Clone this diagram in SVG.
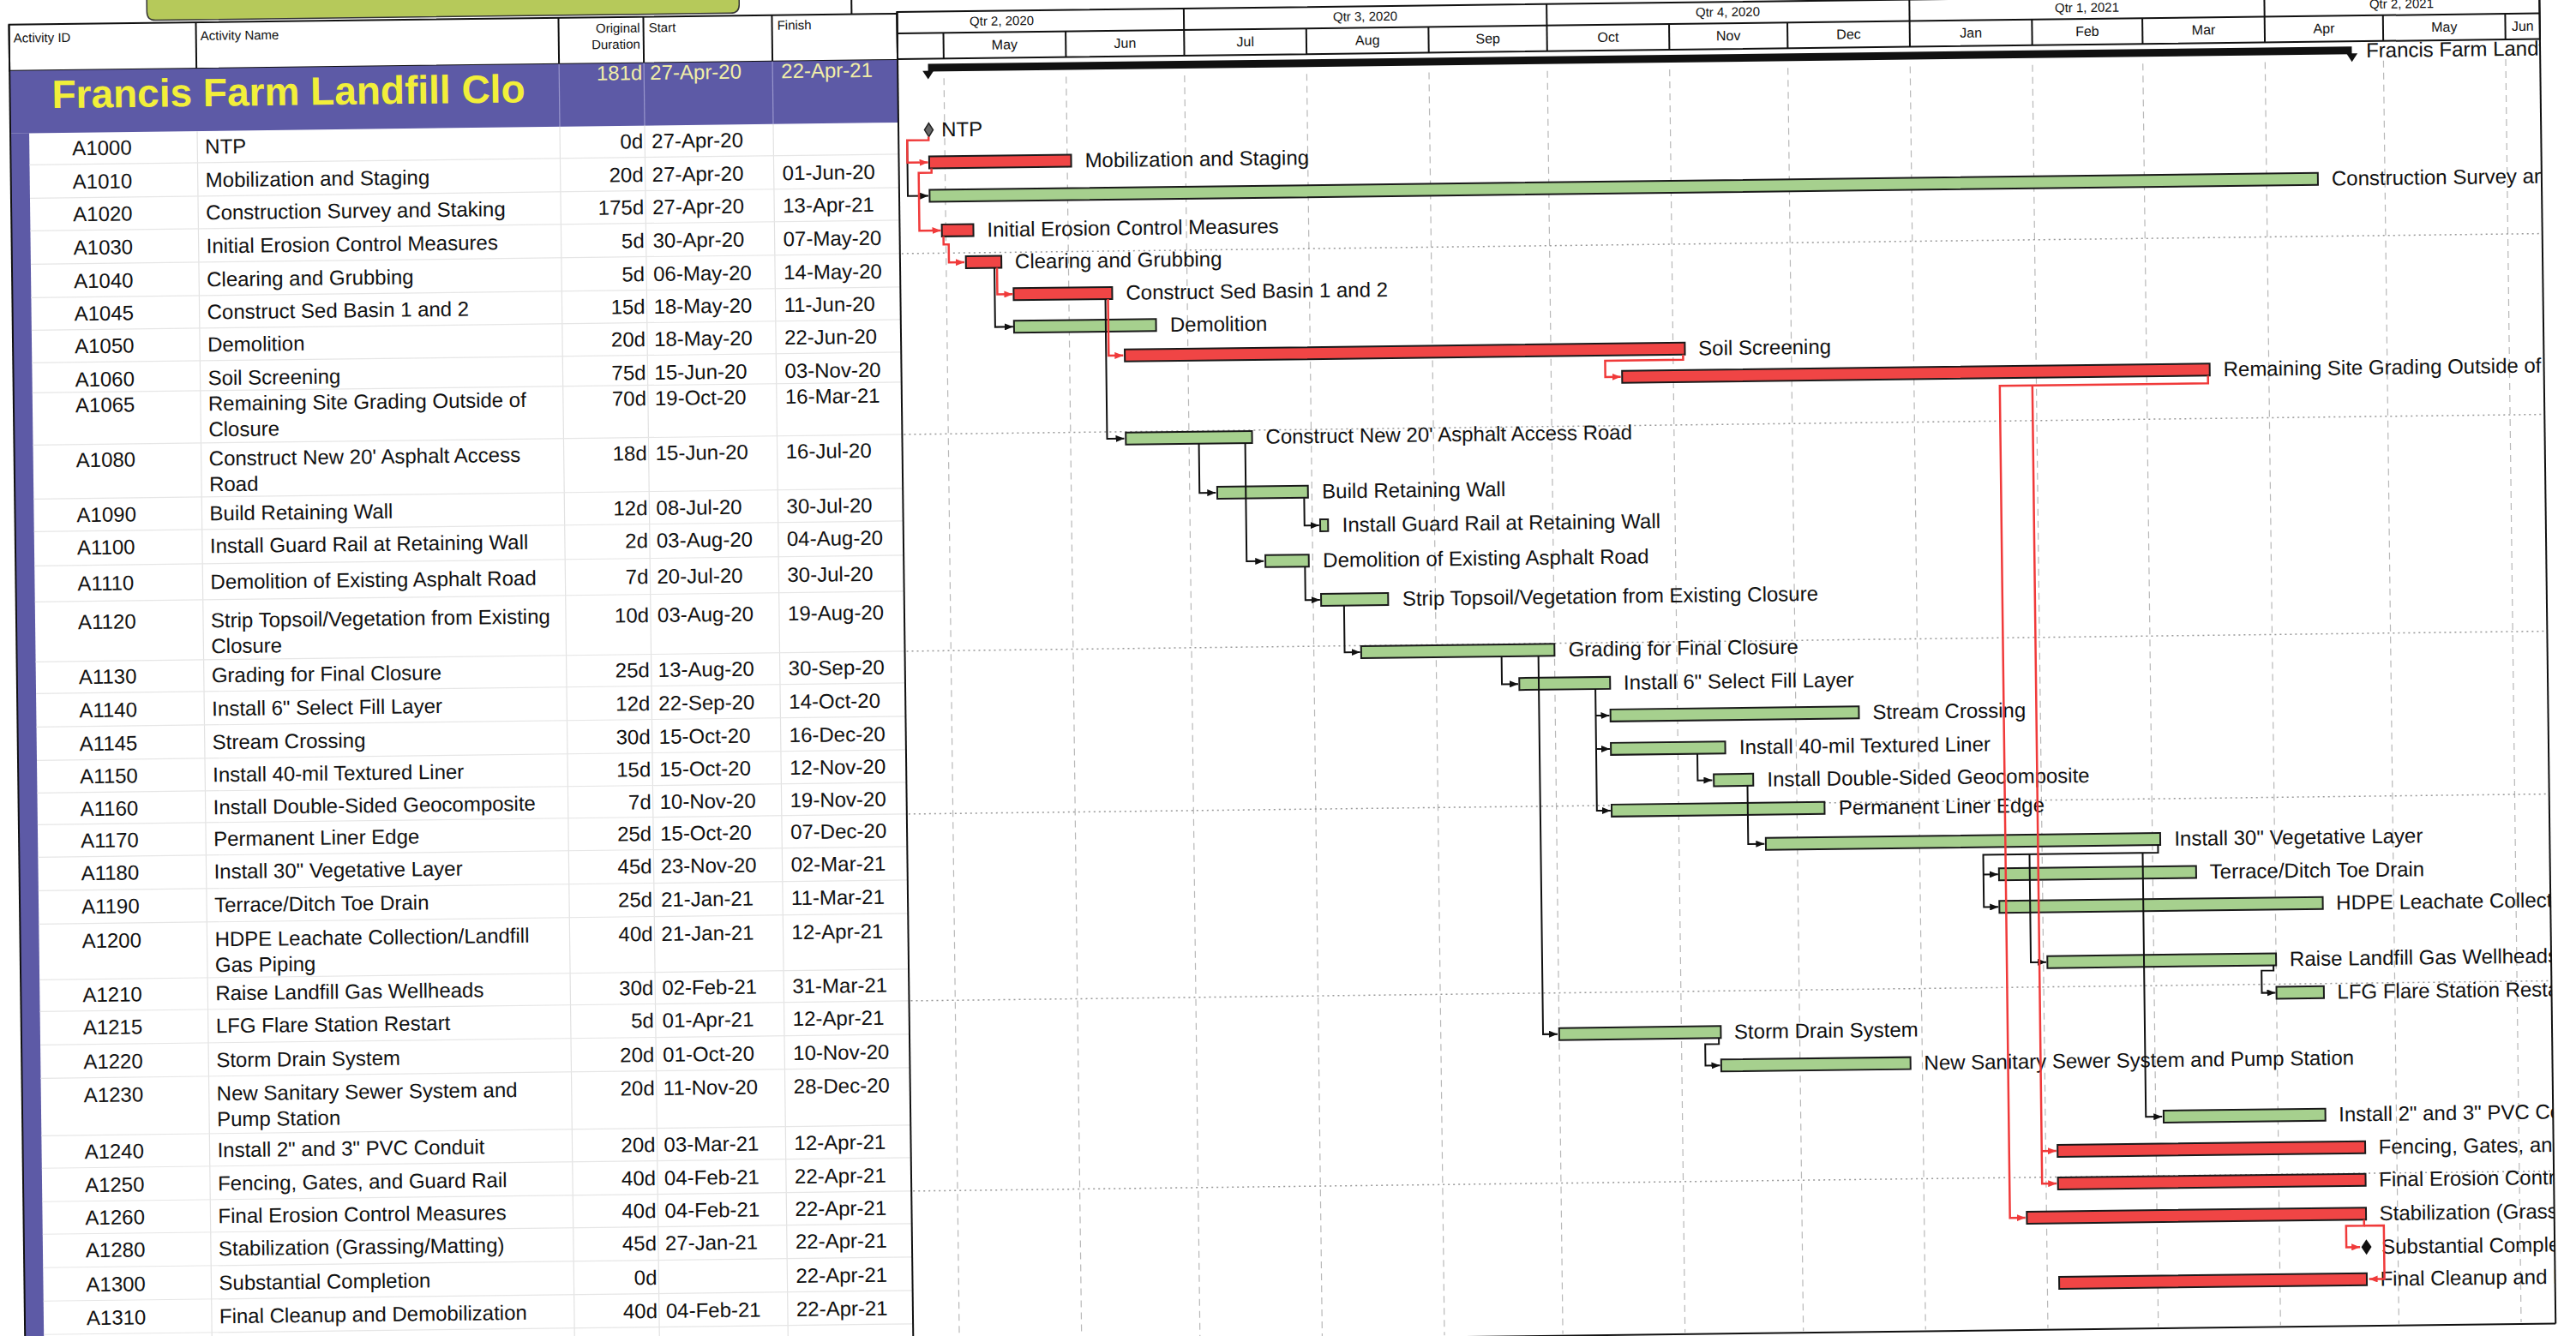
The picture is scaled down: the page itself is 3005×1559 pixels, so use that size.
<svg xmlns="http://www.w3.org/2000/svg" width="3005" height="1559" viewBox="0 0 3005 1559">
<defs>
<style>
text{font-family:"Liberation Sans",Arial,sans-serif;fill:#111}
.id,.nm,.dt,.lb{font-size:24px}
.du{font-size:24px;text-anchor:end}
.hd{font-size:15px}
.hde{font-size:15px;text-anchor:end}
.qt{font-size:15px;text-anchor:middle}
.mo{font-size:16px;text-anchor:middle}
.lb{clip-path:url(#cc)}
.r{fill:#f04545;stroke:#1a1a1a;stroke-width:2}
.g{fill:#a6d08e;stroke:#1a1a1a;stroke-width:2}
.cr{fill:none;stroke:#f03a3a;stroke-width:2.5;marker-end:url(#ar)}
.cb{fill:none;stroke:#111;stroke-width:2;marker-end:url(#ab)}
.grid{stroke:#b8b8b8;stroke-width:1.2;stroke-dasharray:8 6}
.dot{stroke:#999;stroke-width:1.5;stroke-dasharray:2 4}
.rowl{stroke:#e6e6e6;stroke-width:1.2}
.coll{stroke:#e2e2e2;stroke-width:1.2}
.bd{stroke:#111;stroke-width:2;fill:none}
</style>
<marker id="ar" viewBox="0 0 10 8" refX="10" refY="4" markerWidth="10" markerHeight="8" markerUnits="userSpaceOnUse" orient="auto"><path d="M0,0 L10,4 L0,8 Z" fill="#f03a3a"/></marker>
<marker id="ab" viewBox="0 0 10 8" refX="10" refY="4" markerWidth="10" markerHeight="8" markerUnits="userSpaceOnUse" orient="auto"><path d="M0,0 L10,4 L0,8 Z" fill="#111"/></marker>
<clipPath id="cc"><rect x="1056" y="60" width="1916" height="1520"/></clipPath>
</defs>
<rect x="0" y="0" width="3005" height="1559" fill="#fff"/>
<g transform="rotate(-0.7 1050 800)">
<path d="M181,-40 V3 Q181,13 191,13 H862 Q872,13 872,3 V-40 Z" fill="#b6c95a" stroke="#333" stroke-width="1.5"/>
<line x1="1003" y1="-30" x2="1003" y2="16" class="bd"/>
<rect x="20" y="16" width="1036" height="54" fill="#fff" class="bd"/>
<g class="bd"><line x1="238" y1="16" x2="238" y2="70"/><line x1="661" y1="16" x2="661" y2="70"/><line x1="760" y1="16" x2="760" y2="70"/><line x1="910" y1="16" x2="910" y2="70"/></g>
<text class="hd" x="25" y="37">Activity ID</text>
<text class="hd" x="243" y="37">Activity Name</text>
<text class="hde" x="756" y="34">Original</text>
<text class="hde" x="756" y="53">Duration</text>
<text class="hd" x="766" y="34">Start</text>
<text class="hd" x="916" y="33">Finish</text>
<rect x="20" y="70" width="1036" height="73" fill="#5d5aa6"/>
<rect x="20" y="143" width="22" height="1470" fill="#5d5aa6"/>
<g stroke="#9896cc" stroke-width="1.2"><line x1="661" y1="70" x2="661" y2="143"/><line x1="760" y1="70" x2="760" y2="143"/><line x1="910" y1="70" x2="910" y2="143"/></g>
<text x="69" y="114" font-size="46" font-weight="bold" style="fill:#f2ef3a">Francis Farm Landfill Clo</text>
<text class="du" x="758" y="89.5" style="fill:#f1eea8">181d</text>
<text class="dt" x="767" y="89.5" style="fill:#f1eea8">27-Apr-20</text>
<text class="dt" x="920" y="89.5" style="fill:#f1eea8">22-Apr-21</text>
<g class="coll"><line x1="238" y1="143" x2="238" y2="1610"/><line x1="661" y1="143" x2="661" y2="1610"/><line x1="760" y1="143" x2="760" y2="1610"/><line x1="910" y1="143" x2="910" y2="1610"/></g>
<g class="rowl">
<line x1="42" y1="180" x2="1056" y2="180"/><line x1="42" y1="219" x2="1056" y2="219"/><line x1="42" y1="257" x2="1056" y2="257"/><line x1="42" y1="296" x2="1056" y2="296"/><line x1="42" y1="335" x2="1056" y2="335"/><line x1="42" y1="373" x2="1056" y2="373"/><line x1="42" y1="411" x2="1056" y2="411"/><line x1="42" y1="446" x2="1056" y2="446"/><line x1="42" y1="507" x2="1056" y2="507"/><line x1="42" y1="570" x2="1056" y2="570"/><line x1="42" y1="608" x2="1056" y2="608"/><line x1="42" y1="648" x2="1056" y2="648"/><line x1="42" y1="690" x2="1056" y2="690"/><line x1="42" y1="760" x2="1056" y2="760"/><line x1="42" y1="797" x2="1056" y2="797"/><line x1="42" y1="836" x2="1056" y2="836"/><line x1="42" y1="875" x2="1056" y2="875"/><line x1="42" y1="913" x2="1056" y2="913"/><line x1="42" y1="950" x2="1056" y2="950"/><line x1="42" y1="988" x2="1056" y2="988"/><line x1="42" y1="1027" x2="1056" y2="1027"/><line x1="42" y1="1066" x2="1056" y2="1066"/><line x1="42" y1="1131" x2="1056" y2="1131"/><line x1="42" y1="1168" x2="1056" y2="1168"/><line x1="42" y1="1207" x2="1056" y2="1207"/><line x1="42" y1="1246" x2="1056" y2="1246"/><line x1="42" y1="1313" x2="1056" y2="1313"/><line x1="42" y1="1351" x2="1056" y2="1351"/><line x1="42" y1="1390" x2="1056" y2="1390"/><line x1="42" y1="1428" x2="1056" y2="1428"/><line x1="42" y1="1467" x2="1056" y2="1467"/><line x1="42" y1="1506" x2="1056" y2="1506"/><line x1="42" y1="1545" x2="1056" y2="1545"/>
</g>
<line x1="20" y1="16" x2="20" y2="1610" class="bd"/>
<line x1="1056" y1="14" x2="1056" y2="1610" class="bd"/>
<rect x="1056" y="14" width="1916" height="55" fill="#fff" class="bd"/>
<line x1="1056" y1="39" x2="2972" y2="39" class="bd"/>
<g class="bd">
<line x1="1390.5" y1="14" x2="1390.5" y2="69"/><line x1="1813.8" y1="14" x2="1813.8" y2="69"/><line x1="2237" y1="14" x2="2237" y2="69"/><line x1="2651.1" y1="14" x2="2651.1" y2="69"/>
<line x1="1109.8" y1="39" x2="1109.8" y2="69"/><line x1="1252.4" y1="39" x2="1252.4" y2="69"/><line x1="1533.1" y1="39" x2="1533.1" y2="69"/><line x1="1675.7" y1="39" x2="1675.7" y2="69"/><line x1="1956.4" y1="39" x2="1956.4" y2="69"/><line x1="2094.4" y1="39" x2="2094.4" y2="69"/><line x1="2379.7" y1="39" x2="2379.7" y2="69"/><line x1="2508.5" y1="39" x2="2508.5" y2="69"/><line x1="2789.2" y1="39" x2="2789.2" y2="69"/><line x1="2931.8" y1="39" x2="2931.8" y2="69"/>
</g>
<text class="qt" x="1178" y="31">Qtr 2, 2020</text>
<text class="qt" x="1602" y="31">Qtr 3, 2020</text>
<text class="qt" x="2025" y="31">Qtr 4, 2020</text>
<text class="qt" x="2444" y="31">Qtr 1, 2021</text>
<text class="qt" x="2811" y="31">Qtr 2, 2021</text>
<text class="mo" x="1181" y="59">May</text><text class="mo" x="1321.5" y="59">Jun</text><text class="mo" x="1461.8" y="59">Jul</text><text class="mo" x="1604.4" y="59">Aug</text><text class="mo" x="1744.8" y="59">Sep</text><text class="mo" x="1885" y="59">Oct</text><text class="mo" x="2025.4" y="59">Nov</text><text class="mo" x="2165.7" y="59">Dec</text><text class="mo" x="2308.4" y="59">Jan</text><text class="mo" x="2444.1" y="59">Feb</text><text class="mo" x="2579.8" y="59">Mar</text><text class="mo" x="2720.2" y="59">Apr</text><text class="mo" x="2860.5" y="59">May</text><text class="mo" x="2952" y="59">Jun</text>
<line x1="2972" y1="14" x2="2972" y2="1568" class="bd"/>
<line x1="1056" y1="1568" x2="2972" y2="1568" class="bd"/>
<g class="grid">
<line x1="1109.8" y1="92" x2="1109.8" y2="1566"/><line x1="1252.4" y1="92" x2="1252.4" y2="1566"/><line x1="1390.5" y1="92" x2="1390.5" y2="1566"/><line x1="1533.1" y1="92" x2="1533.1" y2="1566"/><line x1="1675.7" y1="92" x2="1675.7" y2="1566"/><line x1="1813.8" y1="92" x2="1813.8" y2="1566"/><line x1="1956.4" y1="92" x2="1956.4" y2="1566"/><line x1="2094.4" y1="92" x2="2094.4" y2="1566"/><line x1="2237" y1="92" x2="2237" y2="1566"/><line x1="2379.7" y1="92" x2="2379.7" y2="1566"/><line x1="2508.5" y1="92" x2="2508.5" y2="1566"/><line x1="2651.1" y1="92" x2="2651.1" y2="1566"/><line x1="2789.2" y1="92" x2="2789.2" y2="1566"/><line x1="2931.8" y1="92" x2="2931.8" y2="1566"/>
</g>
<g class="dot">
<line x1="1058" y1="296" x2="2970" y2="296"/><line x1="1058" y1="507" x2="2970" y2="507"/><line x1="1058" y1="760" x2="2970" y2="760"/><line x1="1058" y1="950" x2="2970" y2="950"/><line x1="1058" y1="1168" x2="2970" y2="1168"/><line x1="1058" y1="1390" x2="2970" y2="1390"/>
</g>
<g id="summary">
<rect x="1091.4" y="75" width="1661" height="9" fill="#111"/>
<path d="M1085,83 L1098,83 L1091.4,93 Z" fill="#111"/>
<path d="M2746,83 L2759,83 L2752.4,93 Z" fill="#111"/>
<text class="lb" x="2769" y="88">Francis Farm Landf</text>
</g>
<g id="A1000"><text class="id" x="92" y="169.5">A1000</text><text class="nm" x="247" y="169.5">NTP</text><text class="du" x="758" y="169.5">0d</text><text class="dt" x="768" y="169.5">27-Apr-20</text>
<path d="M1091.4,144 L1096.4,152 L1091.4,160 L1086.4,152 Z" fill="#666" stroke="#222" stroke-width="1.5"/><text class="lb" x="1106" y="160">NTP</text></g>
<g id="A1010"><text class="id" x="92" y="208.5">A1010</text><text class="nm" x="247" y="208.5">Mobilization and Staging</text><text class="du" x="758" y="208.5">20d</text><text class="dt" x="768" y="208.5">27-Apr-20</text><text class="dt" x="920" y="208.5">01-Jun-20</text>
<rect class="r" x="1091.4" y="183" width="165.6" height="14"/><text class="lb" x="1273" y="198">Mobilization and Staging</text></g>
<g id="A1020"><text class="id" x="92" y="246.5">A1020</text><text class="nm" x="247" y="246.5">Construction Survey and Staking</text><text class="du" x="758" y="246.5">175d</text><text class="dt" x="768" y="246.5">27-Apr-20</text><text class="dt" x="920" y="246.5">13-Apr-21</text>
<rect class="g" x="1091.4" y="222" width="1619.6" height="14"/><text class="lb" x="2727" y="237">Construction Survey and</text></g>
<g id="A1030"><text class="id" x="92" y="285.5">A1030</text><text class="nm" x="247" y="285.5">Initial Erosion Control Measures</text><text class="du" x="758" y="285.5">5d</text><text class="dt" x="768" y="285.5">30-Apr-20</text><text class="dt" x="920" y="285.5">07-May-20</text>
<rect class="r" x="1105.2" y="262.5" width="36.8" height="14"/><text class="lb" x="1158" y="277.5">Initial Erosion Control Measures</text></g>
<g id="A1040"><text class="id" x="92" y="324.5">A1040</text><text class="nm" x="247" y="324.5">Clearing and Grubbing</text><text class="du" x="758" y="324.5">5d</text><text class="dt" x="768" y="324.5">06-May-20</text><text class="dt" x="920" y="324.5">14-May-20</text>
<rect class="r" x="1132.8" y="300" width="41.4" height="14"/><text class="lb" x="1190" y="315">Clearing and Grubbing</text></g>
<g id="A1045"><text class="id" x="92" y="362.5">A1045</text><text class="nm" x="247" y="362.5">Construct Sed Basin 1 and 2</text><text class="du" x="758" y="362.5">15d</text><text class="dt" x="768" y="362.5">18-May-20</text><text class="dt" x="920" y="362.5">11-Jun-20</text>
<rect class="r" x="1188" y="338" width="115" height="14"/><text class="lb" x="1319" y="353">Construct Sed Basin 1 and 2</text></g>
<g id="A1050"><text class="id" x="92" y="400.5">A1050</text><text class="nm" x="247" y="400.5">Demolition</text><text class="du" x="758" y="400.5">20d</text><text class="dt" x="768" y="400.5">18-May-20</text><text class="dt" x="920" y="400.5">22-Jun-20</text>
<rect class="g" x="1188" y="376" width="165.7" height="14"/><text class="lb" x="1370" y="391">Demolition</text></g>
<g id="A1060"><text class="id" x="92" y="439.5">A1060</text><text class="nm" x="247" y="439.5">Soil Screening</text><text class="du" x="758" y="439.5">75d</text><text class="dt" x="768" y="439.5">15-Jun-20</text><text class="dt" x="920" y="439.5">03-Nov-20</text>
<rect class="r" x="1316.8" y="411" width="653.4" height="14"/><text class="lb" x="1986" y="426">Soil Screening</text></g>
<g id="A1065"><text class="id" x="92" y="469.5">A1065</text><text class="nm" x="247" y="469.5">Remaining Site Grading Outside of</text><text class="nm" x="247" y="499.5">Closure</text><text class="du" x="758" y="469.5">70d</text><text class="dt" x="768" y="469.5">19-Oct-20</text><text class="dt" x="920" y="469.5">16-Mar-21</text>
<rect class="r" x="1896.6" y="443" width="685.5" height="14"/><text class="lb" x="2598" y="458">Remaining Site Grading Outside of C</text></g>
<g id="A1080"><text class="id" x="92" y="533.5">A1080</text><text class="nm" x="247" y="533.5">Construct New 20' Asphalt Access</text><text class="nm" x="247" y="563.5">Road</text><text class="du" x="758" y="533.5">18d</text><text class="dt" x="768" y="533.5">15-Jun-20</text><text class="dt" x="920" y="533.5">16-Jul-20</text>
<rect class="g" x="1316.8" y="508" width="147.3" height="14"/><text class="lb" x="1480" y="523">Construct New 20' Asphalt Access Road</text></g>
<g id="A1090"><text class="id" x="92" y="597.5">A1090</text><text class="nm" x="247" y="597.5">Build Retaining Wall</text><text class="du" x="758" y="597.5">12d</text><text class="dt" x="768" y="597.5">08-Jul-20</text><text class="dt" x="920" y="597.5">30-Jul-20</text>
<rect class="g" x="1422.7" y="572.5" width="105.8" height="14"/><text class="lb" x="1545" y="587.5">Build Retaining Wall</text></g>
<g id="A1100"><text class="id" x="92" y="635.5">A1100</text><text class="nm" x="247" y="635.5">Install Guard Rail at Retaining Wall</text><text class="du" x="758" y="635.5">2d</text><text class="dt" x="768" y="635.5">03-Aug-20</text><text class="dt" x="920" y="635.5">04-Aug-20</text>
<rect class="g" x="1542.3" y="612" width="9.2" height="14"/><text class="lb" x="1568" y="627">Install Guard Rail at Retaining Wall</text></g>
<g id="A1110"><text class="id" x="92" y="677.5">A1110</text><text class="nm" x="247" y="677.5">Demolition of Existing Asphalt Road</text><text class="du" x="758" y="677.5">7d</text><text class="dt" x="768" y="677.5">20-Jul-20</text><text class="dt" x="920" y="677.5">30-Jul-20</text>
<rect class="g" x="1477.9" y="653" width="50.6" height="14"/><text class="lb" x="1545" y="668">Demolition of Existing Asphalt Road</text></g>
<g id="A1120"><text class="id" x="92" y="722.5">A1120</text><text class="nm" x="247" y="722.5">Strip Topsoil/Vegetation from Existing</text><text class="nm" x="247" y="752.5">Closure</text><text class="du" x="758" y="722.5">10d</text><text class="dt" x="768" y="722.5">03-Aug-20</text><text class="dt" x="920" y="722.5">19-Aug-20</text>
<rect class="g" x="1542.3" y="699" width="78.2" height="14"/><text class="lb" x="1637" y="714">Strip Topsoil/Vegetation from Existing Closure</text></g>
<g id="A1130"><text class="id" x="92" y="786.5">A1130</text><text class="nm" x="247" y="786.5">Grading for Final Closure</text><text class="du" x="758" y="786.5">25d</text><text class="dt" x="768" y="786.5">13-Aug-20</text><text class="dt" x="920" y="786.5">30-Sep-20</text>
<rect class="g" x="1588.3" y="760.6" width="225.5" height="14"/><text class="lb" x="1830" y="775.6">Grading for Final Closure</text></g>
<g id="A1140"><text class="id" x="92" y="825.5">A1140</text><text class="nm" x="247" y="825.5">Install 6" Select Fill Layer</text><text class="du" x="758" y="825.5">12d</text><text class="dt" x="768" y="825.5">22-Sep-20</text><text class="dt" x="920" y="825.5">14-Oct-20</text>
<rect class="g" x="1772.3" y="800" width="105.9" height="14"/><text class="lb" x="1894" y="815">Install 6" Select Fill Layer</text></g>
<g id="A1145"><text class="id" x="92" y="864.5">A1145</text><text class="nm" x="247" y="864.5">Stream Crossing</text><text class="du" x="758" y="864.5">30d</text><text class="dt" x="768" y="864.5">15-Oct-20</text><text class="dt" x="920" y="864.5">16-Dec-20</text>
<rect class="g" x="1878.2" y="838" width="289.8" height="14"/><text class="lb" x="2184" y="853">Stream Crossing</text></g>
<g id="A1150"><text class="id" x="92" y="902.5">A1150</text><text class="nm" x="247" y="902.5">Install 40-mil Textured Liner</text><text class="du" x="758" y="902.5">15d</text><text class="dt" x="768" y="902.5">15-Oct-20</text><text class="dt" x="920" y="902.5">12-Nov-20</text>
<rect class="g" x="1878.2" y="877" width="133.4" height="14"/><text class="lb" x="2028" y="892">Install 40-mil Textured Liner</text></g>
<g id="A1160"><text class="id" x="92" y="940.5">A1160</text><text class="nm" x="247" y="940.5">Install Double-Sided Geocomposite</text><text class="du" x="758" y="940.5">7d</text><text class="dt" x="768" y="940.5">10-Nov-20</text><text class="dt" x="920" y="940.5">19-Nov-20</text>
<rect class="g" x="1997.8" y="915" width="46" height="14"/><text class="lb" x="2060" y="930">Install Double-Sided Geocomposite</text></g>
<g id="A1170"><text class="id" x="92" y="977.5">A1170</text><text class="nm" x="247" y="977.5">Permanent Liner Edge</text><text class="du" x="758" y="977.5">25d</text><text class="dt" x="768" y="977.5">15-Oct-20</text><text class="dt" x="920" y="977.5">07-Dec-20</text>
<rect class="g" x="1878.2" y="949" width="248.4" height="14"/><text class="lb" x="2143" y="964">Permanent Liner Edge</text></g>
<g id="A1180"><text class="id" x="92" y="1015.5">A1180</text><text class="nm" x="247" y="1015.5">Install 30" Vegetative Layer</text><text class="du" x="758" y="1015.5">45d</text><text class="dt" x="768" y="1015.5">23-Nov-20</text><text class="dt" x="920" y="1015.5">02-Mar-21</text>
<rect class="g" x="2057.6" y="990" width="460.1" height="14"/><text class="lb" x="2534" y="1005">Install 30" Vegetative Layer</text></g>
<g id="A1190"><text class="id" x="92" y="1054.5">A1190</text><text class="nm" x="247" y="1054.5">Terrace/Ditch Toe Drain</text><text class="du" x="758" y="1054.5">25d</text><text class="dt" x="768" y="1054.5">21-Jan-21</text><text class="dt" x="920" y="1054.5">11-Mar-21</text>
<rect class="g" x="2329.1" y="1029" width="230" height="14"/><text class="lb" x="2575" y="1044">Terrace/Ditch Toe Drain</text></g>
<g id="A1200"><text class="id" x="92" y="1094.5">A1200</text><text class="nm" x="247" y="1094.5">HDPE Leachate Collection/Landfill</text><text class="nm" x="247" y="1124.5">Gas Piping</text><text class="du" x="758" y="1094.5">40d</text><text class="dt" x="768" y="1094.5">21-Jan-21</text><text class="dt" x="920" y="1094.5">12-Apr-21</text>
<rect class="g" x="2329.1" y="1067" width="377.3" height="14"/><text class="lb" x="2722" y="1082">HDPE Leachate Collecti</text></g>
<g id="A1210"><text class="id" x="92" y="1157.5">A1210</text><text class="nm" x="247" y="1157.5">Raise Landfill Gas Wellheads</text><text class="du" x="758" y="1157.5">30d</text><text class="dt" x="768" y="1157.5">02-Feb-21</text><text class="dt" x="920" y="1157.5">31-Mar-21</text>
<rect class="g" x="2384.3" y="1132" width="266.8" height="14"/><text class="lb" x="2667" y="1147">Raise Landfill Gas Wellheads</text></g>
<g id="A1215"><text class="id" x="92" y="1195.5">A1215</text><text class="nm" x="247" y="1195.5">LFG Flare Station Restart</text><text class="du" x="758" y="1195.5">5d</text><text class="dt" x="768" y="1195.5">01-Apr-21</text><text class="dt" x="920" y="1195.5">12-Apr-21</text>
<rect class="g" x="2651.1" y="1171" width="55.3" height="14"/><text class="lb" x="2722" y="1186">LFG Flare Station Resta</text></g>
<g id="A1220"><text class="id" x="92" y="1235.5">A1220</text><text class="nm" x="247" y="1235.5">Storm Drain System</text><text class="du" x="758" y="1235.5">20d</text><text class="dt" x="768" y="1235.5">01-Oct-20</text><text class="dt" x="920" y="1235.5">10-Nov-20</text>
<rect class="g" x="1813.8" y="1209" width="188.6" height="14"/><text class="lb" x="2018" y="1224">Storm Drain System</text></g>
<g id="A1230"><text class="id" x="92" y="1274.5">A1230</text><text class="nm" x="247" y="1274.5">New Sanitary Sewer System and</text><text class="nm" x="247" y="1304.5">Pump Station</text><text class="du" x="758" y="1274.5">20d</text><text class="dt" x="768" y="1274.5">11-Nov-20</text><text class="dt" x="920" y="1274.5">28-Dec-20</text>
<rect class="g" x="2002.4" y="1248" width="220.8" height="14"/><text class="lb" x="2239" y="1263">New Sanitary Sewer System and Pump Station</text></g>
<g id="A1240"><text class="id" x="92" y="1340.5">A1240</text><text class="nm" x="247" y="1340.5">Install 2" and 3" PVC Conduit</text><text class="du" x="758" y="1340.5">20d</text><text class="dt" x="768" y="1340.5">03-Mar-21</text><text class="dt" x="920" y="1340.5">12-Apr-21</text>
<rect class="g" x="2517.7" y="1314" width="188.7" height="14"/><text class="lb" x="2722" y="1329">Install 2" and 3" PVC Co</text></g>
<g id="A1250"><text class="id" x="92" y="1379.5">A1250</text><text class="nm" x="247" y="1379.5">Fencing, Gates, and Guard Rail</text><text class="du" x="758" y="1379.5">40d</text><text class="dt" x="768" y="1379.5">04-Feb-21</text><text class="dt" x="920" y="1379.5">22-Apr-21</text>
<rect class="r" x="2393.5" y="1352.5" width="358.9" height="14"/><text class="lb" x="2768" y="1367.5">Fencing, Gates, and</text></g>
<g id="A1260"><text class="id" x="92" y="1417.5">A1260</text><text class="nm" x="247" y="1417.5">Final Erosion Control Measures</text><text class="du" x="758" y="1417.5">40d</text><text class="dt" x="768" y="1417.5">04-Feb-21</text><text class="dt" x="920" y="1417.5">22-Apr-21</text>
<rect class="r" x="2393.5" y="1390.5" width="358.9" height="14"/><text class="lb" x="2768" y="1405.5">Final Erosion Contr</text></g>
<g id="A1280"><text class="id" x="92" y="1455.5">A1280</text><text class="nm" x="247" y="1455.5">Stabilization (Grassing/Matting)</text><text class="du" x="758" y="1455.5">45d</text><text class="dt" x="768" y="1455.5">27-Jan-21</text><text class="dt" x="920" y="1455.5">22-Apr-21</text>
<rect class="r" x="2356.7" y="1430" width="395.7" height="14"/><text class="lb" x="2768" y="1445">Stabilization (Grass</text></g>
<g id="A1300"><text class="id" x="92" y="1495.5">A1300</text><text class="nm" x="247" y="1495.5">Substantial Completion</text><text class="du" x="758" y="1495.5">0d</text><text class="dt" x="920" y="1495.5">22-Apr-21</text>
<path d="M2752.4,1467 L2758.4,1476 L2752.4,1485 L2746.4,1476 Z" fill="#111"/><text class="lb" x="2770" y="1484">Substantial Comple</text></g>
<g id="A1310"><text class="id" x="92" y="1534.5">A1310</text><text class="nm" x="247" y="1534.5">Final Cleanup and Demobilization</text><text class="du" x="758" y="1534.5">40d</text><text class="dt" x="768" y="1534.5">04-Feb-21</text><text class="dt" x="920" y="1534.5">22-Apr-21</text>
<rect class="r" x="2393.5" y="1506.5" width="358.9" height="14"/><text class="lb" x="2768" y="1521.5">Final Cleanup and D</text></g>
<g id="connectors">
<path class="cb" d="M1066,164 V229 H1090"/>
<path class="cb" d="M1166,314 V383 H1187"/>
<path class="cb" d="M1295,352 V515 H1315"/>
<path class="cb" d="M1402,522 V579.5 H1421"/>
<path class="cb" d="M1456,522 V660 H1476"/>
<path class="cb" d="M1524,587 V619 H1541"/>
<path class="cb" d="M1524,667 V706 H1541"/>
<path class="cb" d="M1569,713 V767.6 H1587"/>
<path class="cb" d="M1752,775 V807 H1771"/>
<path class="cb" d="M1795,775 V1216 H1812"/>
<path class="cb" d="M1861,814 V956 H1877"/>
<path class="cb" d="M1861,845 H1877"/>
<path class="cb" d="M1861,884 H1877"/>
<path class="cb" d="M1979,891 V922 H1996"/>
<path class="cb" d="M2037,929 V997 H2056"/>
<path class="cb" d="M2515,1004 V1013 H2311 V1074 H2328"/>
<path class="cb" d="M2311,1036 H2328"/>
<path class="cb" d="M2365,1013 V1139 H2383"/>
<path class="cb" d="M2497,1013 V1321 H2516"/>
<path class="cb" d="M2648,1146 V1152 H2634 V1178 H2650"/>
<path class="cb" d="M2000,1223 V1230 H1984 V1255 H2001"/>
<path class="cr" d="M1091,160 V164 H1066 V190 H1090"/>
<path class="cr" d="M1094,197 V202 H1079 V269.5 H1104"/>
<path class="cr" d="M1107,276.5 V286 H1113 V307 H1131"/>
<path class="cr" d="M1169,314 V345 H1187"/>
<path class="cr" d="M1298,352 V418 H1315"/>
<path class="cr" d="M1968,425 V431 H1877 V450 H1895"/>
<path class="cr" d="M2580,457 V466 H2337 V1437 H2355"/>
<path class="cr" d="M2375,466 V1397.5 H2392"/>
<path class="cr" d="M2375,1359.5 H2392"/>
<path class="cr" d="M2750,1444 V1451 H2729 V1476 H2745"/>
<path class="cr" d="M2750,1451 H2773 V1513.5 H2755"/>
</g>
</g>
</svg>
